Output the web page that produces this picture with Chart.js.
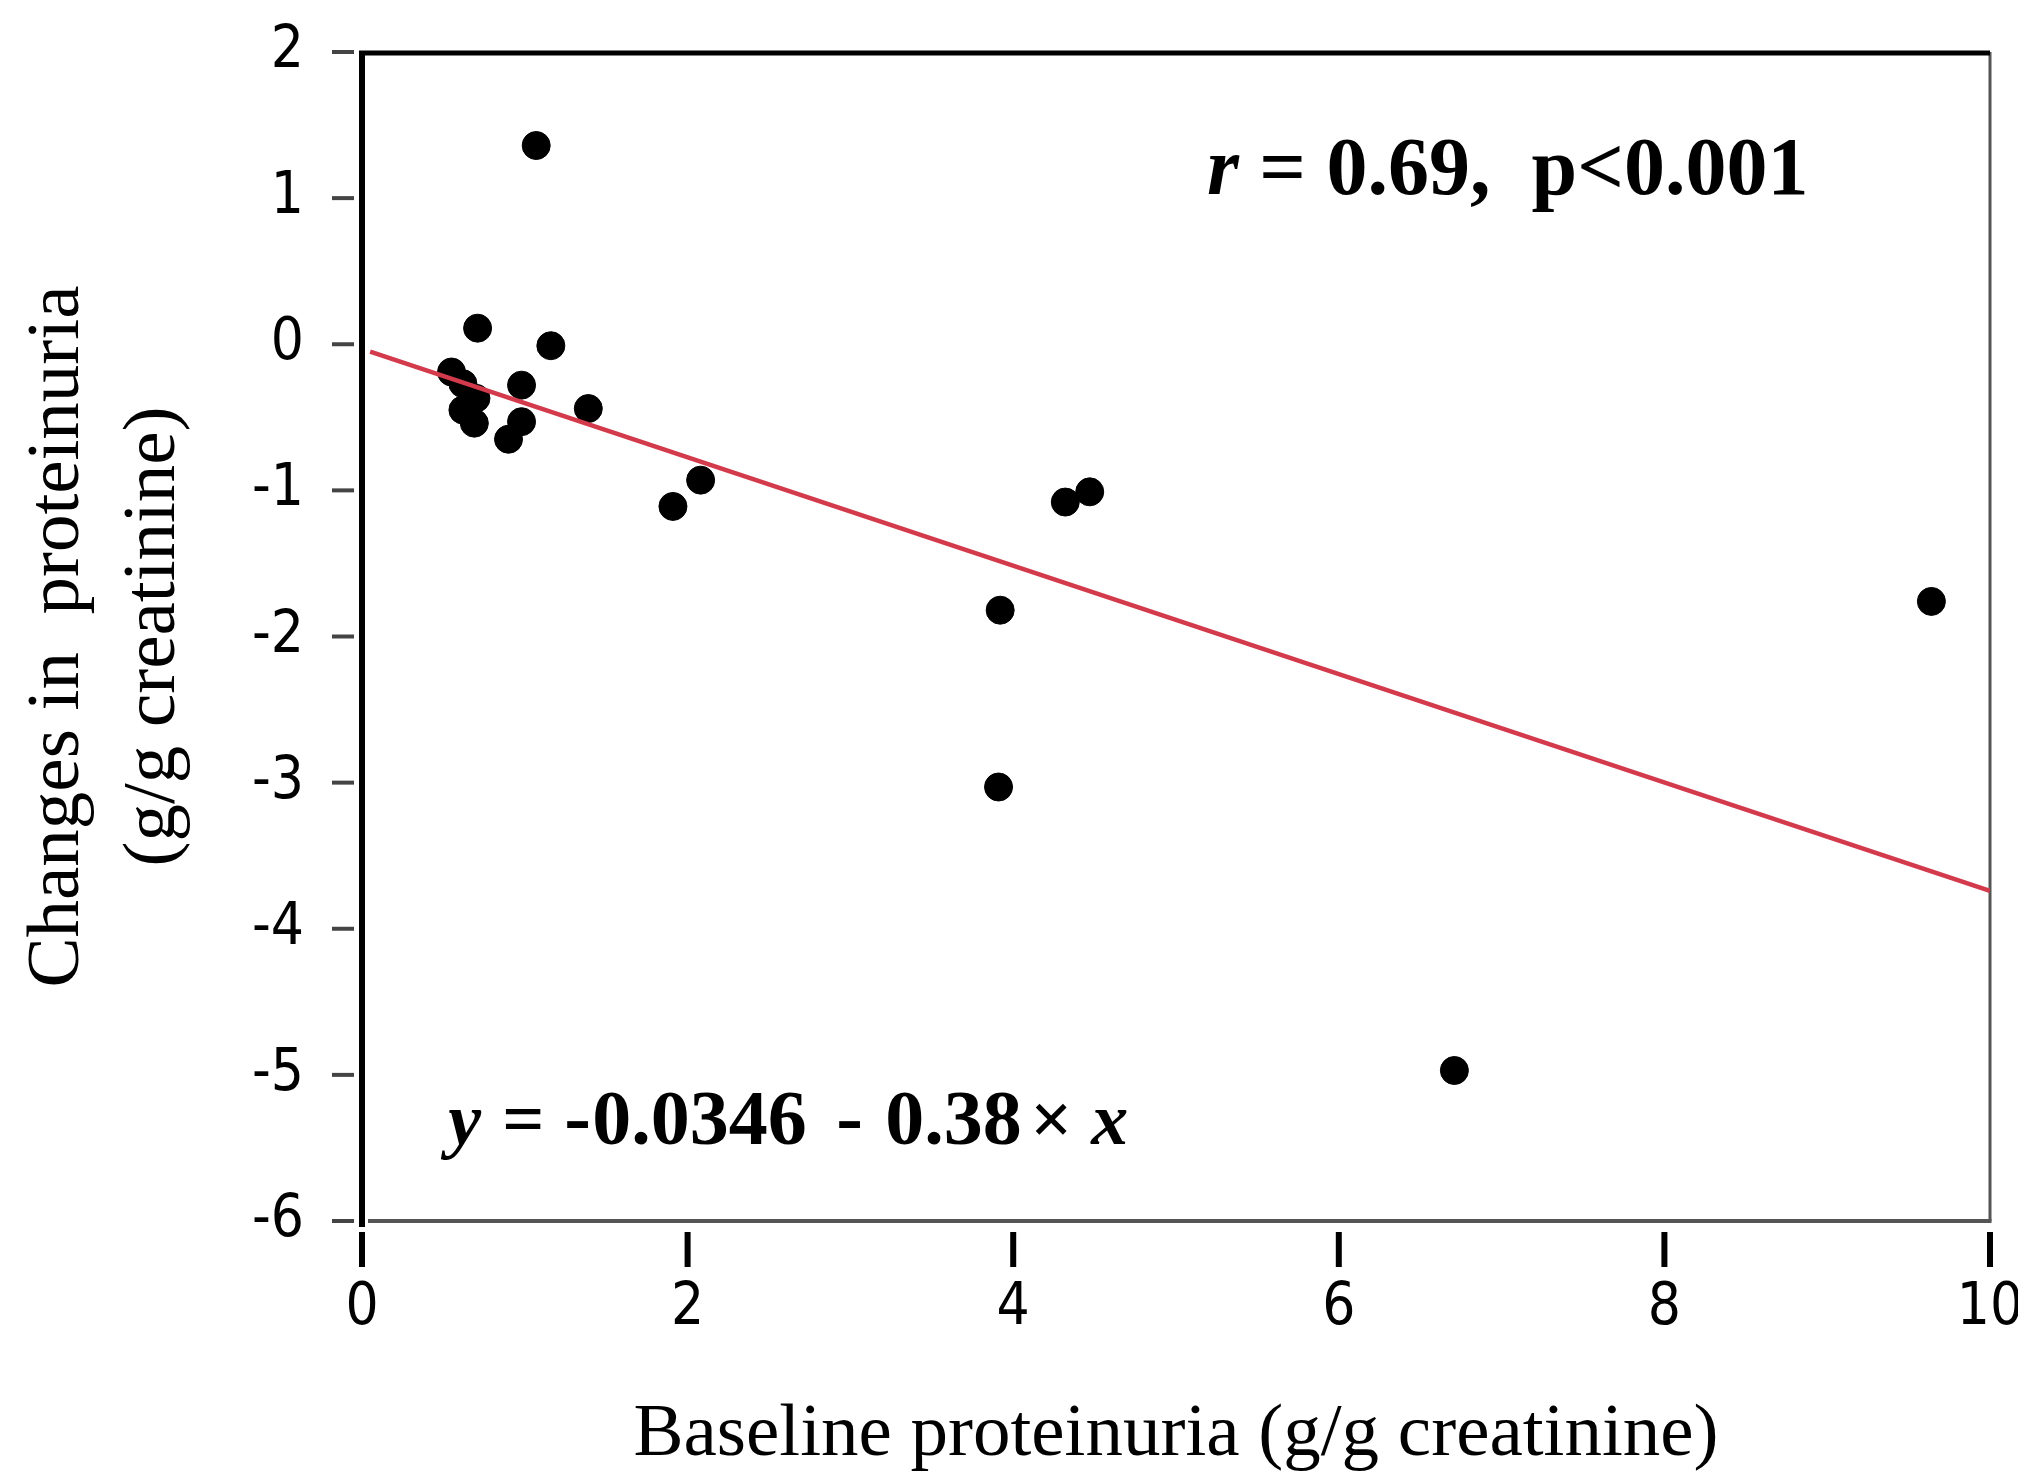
<!DOCTYPE html>
<html>
<head>
<meta charset="utf-8">
<title>Baseline proteinuria vs change</title>
<script src="https://cdn.jsdelivr.net/npm/chart.js@4.4.1/dist/chart.umd.min.js"></script>
<style>
  html, body { margin: 0; padding: 0; background: #fff; }
  #wrap { width: 2018px; height: 1478px; }
</style>
</head>
<body>
<div id="wrap"><canvas id="chart" width="2018" height="1478"></canvas></div>
<script>
// values
const baseline = [1.07, 0.71, 1.16, 0.55, 0.62, 0.98, 0.70, 0.62, 0.69, 0.98, 0.90, 1.39, 1.91, 2.08, 3.92, 3.91, 4.32, 4.47, 6.71, 9.64];
const change   = [1.36, 0.11, -0.01, -0.19, -0.27, -0.28, -0.37, -0.45, -0.54, -0.53, -0.65, -0.44, -1.11, -0.93, -1.82, -3.03, -1.08, -1.01, -4.97, -1.76];

// regression line end points as drawn
const fitX = [0.05, 10];
const fitY = [-0.05, -3.74];

const xTicks = [0, 2, 4, 6, 8, 10];
const yTicks = [2, 1, 0, -1, -2, -3, -4, -5, -6];

const xTitle = 'Baseline proteinuria (g/g creatinine)';
const yTitle = ['Changes in  proteinuria', '(g/g creatinine)'];
const statsAnchor = [5.19, 1.03];
const eqAnchor = [0.53, -5.47];

const TICK_FONT = "'Liberation Sans Narrow', 'DejaVu Sans Condensed', 'Liberation Sans', sans-serif";
const SERIF = "'Liberation Serif', 'Times New Roman', serif";

function line(ctx, x1, y1, x2, y2) {
    ctx.beginPath();
    ctx.moveTo(x1, y1);
    ctx.lineTo(x2, y2);
    ctx.stroke();
}

// box, offset tick marks
const framePlugin = {
    id: 'frame',
    beforeDatasetsDraw(chart) {
        const { ctx, chartArea: a, scales: { x, y } } = chart;
        ctx.save();
        ctx.lineCap = 'butt';

        ctx.strokeStyle = '#444';
        ctx.lineWidth = 4;
        y.ticks.forEach(t => {
            const py = y.getPixelForValue(t.value);
            line(ctx, a.left - 30, py, a.left - 8, py);
        });

        ctx.strokeStyle = '#000';
        ctx.lineWidth = 6;
        x.ticks.forEach(t => {
            const px = x.getPixelForValue(t.value);
            line(ctx, px, a.bottom + 11, px, a.bottom + 46);
        });

        ctx.strokeStyle = '#555';
        ctx.lineWidth = 3;
        line(ctx, a.right, a.top, a.right, a.bottom);
        ctx.lineWidth = 4;
        line(ctx, a.left + 6, a.bottom, a.right + 1.5, a.bottom);

        ctx.strokeStyle = '#000';
        ctx.lineWidth = 5;
        line(ctx, a.left - 3, a.top + 1, a.right, a.top + 1);
        ctx.lineWidth = 6;
        line(ctx, a.left, a.top, a.left, a.bottom + 6);
        ctx.restore();
    }
};

// r / p and regression equation
const notesPlugin = {
    id: 'notes',
    afterDatasetsDraw(chart) {
        const { ctx, scales: { x, y } } = chart;
        ctx.save();
        ctx.fillStyle = '#000';
        ctx.textBaseline = 'alphabetic';
        ctx.textAlign = 'left';

        let px = x.getPixelForValue(statsAnchor[0]);
        const py = y.getPixelForValue(statsAnchor[1]);
        ctx.font = `italic bold 82px ${SERIF}`;
        ctx.fillText('r', px, py);
        px += ctx.measureText('r').width;
        ctx.font = `bold 82px ${SERIF}`;
        ctx.fillText(' = 0.69,  p<0.001', px, py);

        const ex = x.getPixelForValue(eqAnchor[0]);
        const ey = y.getPixelForValue(eqAnchor[1]);
        const parts = [
            ['y', 0, 'italic bold 74px'],
            ['=', 54, 'bold 74px'],
            ['-', 116, 'bold 80px'],
            ['0.0346', 144, 'bold 78px'],
            ['-', 388, 'bold 80px'],
            ['0.38', 437, 'bold 78px'],
            ['\u00d7', 582, 'bold 74px'],
            ['x', 643, 'italic bold 74px']
        ];
        parts.forEach(([txt, dx, f]) => {
            ctx.font = `${f} ${SERIF}`;
            ctx.fillText(txt, ex + dx, ey);
        });
        ctx.restore();
    }
};

const ctx = document.getElementById('chart').getContext('2d');

new Chart(ctx, {
    type: 'scatter',
    data: {
        datasets: [
            {
                label: 'fit',
                type: 'line',
                data: fitX.map((v, i) => ({ x: v, y: fitY[i] })),
                borderColor: '#d33a4c',
                borderWidth: 4.5,
                pointRadius: 0,
                fill: false,
                tension: 0
            },
            {
                label: 'patients',
                data: baseline.map((v, i) => ({ x: v, y: change[i] })),
                backgroundColor: '#000',
                borderColor: '#000',
                pointRadius: 14,
                pointHoverRadius: 14
            }
        ]
    },
    options: {
        responsive: false,
        animation: false,
        layout: { padding: { left: 0, top: 52, right: 28, bottom: 0 } },
        plugins: {
            legend: { display: false },
            tooltip: { enabled: false }
        },
        scales: {
            x: {
                type: 'linear',
                min: 0,
                max: 10,
                afterBuildTicks: s => { s.ticks = xTicks.map(v => ({ value: v })); },
                afterFit: s => { s.height = 257; s.paddingLeft = 0; s.paddingRight = 0; },
                grid: { display: false, drawTicks: false },
                border: { display: false },
                ticks: {
                    color: '#000',
                    padding: 53,
                    maxRotation: 0,
                    autoSkip: false,
                    font: { family: TICK_FONT, size: 58 }
                },
                title: {
                    display: true,
                    text: xTitle,
                    color: '#000',
                    font: { family: SERIF, size: 75, lineHeight: 1.15 },
                    padding: { top: 0, bottom: 0 }
                }
            },
            y: {
                type: 'linear',
                min: -6,
                max: 2,
                afterBuildTicks: s => { s.ticks = yTicks.map(v => ({ value: v })); },
                afterFit: s => { s.width = 362; s.paddingTop = 0; s.paddingBottom = 0; },
                grid: { display: false, drawTicks: false },
                border: { display: false },
                ticks: {
                    color: '#000',
                    padding: 58,
                    autoSkip: false,
                    font: { family: TICK_FONT, size: 58 }
                },
                title: {
                    display: true,
                    text: yTitle,
                    color: '#000',
                    font: { family: SERIF, size: 75, lineHeight: 1.28 },
                    padding: { top: 10, bottom: 0 }
                }
            }
        }
    },
    plugins: [framePlugin, notesPlugin]
});
</script>
</body>
</html>
